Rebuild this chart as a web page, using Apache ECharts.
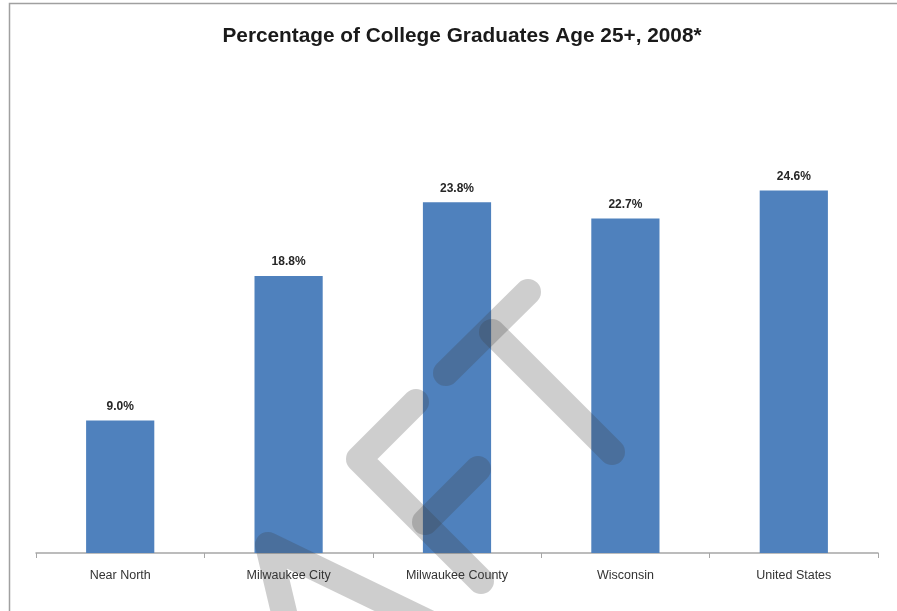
<!DOCTYPE html>
<html><head><meta charset="utf-8">
<script src="https://cdn.jsdelivr.net/npm/echarts@6/dist/echarts.min.js"></script>
<style>html,body{margin:0;padding:0;background:#fff}#c{width:897px;height:611px}</style>
</head><body><div id="c"></div>
<script>
const titleText = 'Percentage of College Graduates Age 25+, 2008*';
const categories = ['Near North', 'Milwaukee City', 'Milwaukee County', 'Wisconsin', 'United States'];
const values = [9.0, 18.8, 23.8, 22.7, 24.6];

const chart = echarts.init(document.getElementById('c'));
const wmStyle = { stroke: 'rgba(60,60,60,0.25)', lineWidth: 26, lineCap: 'round', lineJoin: 'round', fill: null };
const wmLines = [
  [[528,292],[446,373]],
  [[492,332],[612,452]],
  [[416,402],[359,459],[481,581]],
  [[478,469],[425,522]],
  [[287,625],[268,545],[485,650]]
];
chart.setOption({
  animation: false,
  backgroundColor: '#fff',
  title: {
    text: titleText, left: 457, top: 21, textAlign: 'center',
    textStyle: { fontFamily: 'Liberation Sans', fontWeight: 'bold', fontSize: 20.8, color: '#1a1a1a' }
  },
  grid: { left: 36, right: 19, top: 111, bottom: 58, containLabel: false },
  xAxis: {
    type: 'category', data: categories,
    axisLine: { lineStyle: { color: '#a6a6a6', width: 1.5 } },
    axisTick: { show: true, length: 5, lineStyle: { color: '#a6a6a6' } },
    axisLabel: { margin: 16, fontSize: 12.5, color: '#333', fontFamily: 'Liberation Sans' }
  },
  yAxis: { type: 'value', min: 0, max: 30, show: false, splitLine: { show: false } },
  series: [{
    type: 'bar', data: values, barWidth: '40.5%',
    itemStyle: { color: '#4f81bd' },
    label: {
      show: true, position: 'top', distance: 8,
      formatter: p => p.value.toFixed(1) + '%',
      fontFamily: 'Liberation Sans', fontWeight: 'bold', fontSize: 12, color: '#262626'
    }
  }],
  graphic: [
    { type: 'rect', silent: true, shape: { x: 9.5, y: 3.5, width: 900, height: 620 }, style: { fill: null, stroke: '#a0a0a0', lineWidth: 1.5 } }
  ].concat(wmLines.map(pts => ({ type: 'polyline', silent: true, z: 100, shape: { points: pts }, style: wmStyle })))
});
</script></body></html>
